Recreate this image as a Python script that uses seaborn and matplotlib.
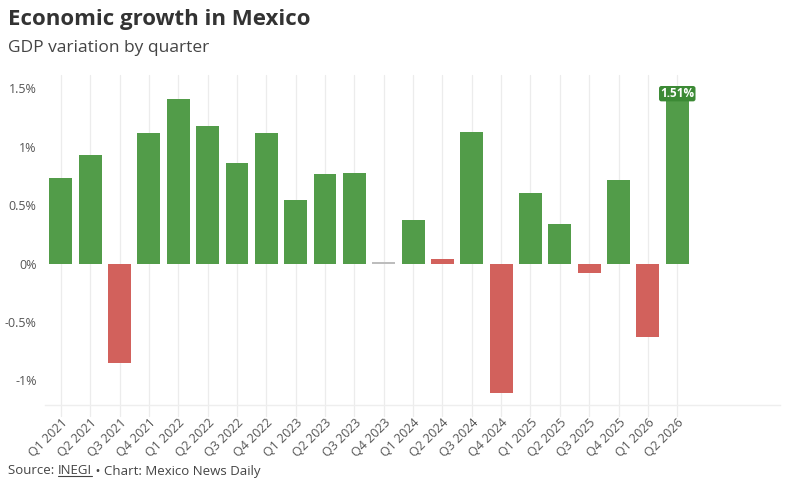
import matplotlib
matplotlib.use("Agg")
import matplotlib.pyplot as plt
import seaborn as sns
import pandas as pd

quarters = ["Q1 2021", "Q2 2021", "Q3 2021", "Q4 2021", "Q1 2022", "Q2 2022", "Q3 2022", "Q4 2022",
            "Q1 2023", "Q2 2023", "Q3 2023", "Q4 2023", "Q1 2024", "Q2 2024", "Q3 2024", "Q4 2024",
            "Q1 2025", "Q2 2025", "Q3 2025", "Q4 2025", "Q1 2026", "Q2 2026"]
gdp_change = [0.73, 0.93, -0.85, 1.12, 1.41, 1.18, 0.86, 1.12,
              0.545, 0.77, 0.78, 0.01, 0.37, 0.04, 1.13, -1.11,
              0.605, 0.34, -0.08, 0.72, -0.63, 1.51]
bar_status = ["up", "up", "down", "up", "up", "up", "up", "up",
              "up", "up", "up", "flat", "up", "down", "up", "down",
              "up", "up", "down", "up", "down", "up"]
y_ticks = [-1, -0.5, 0, 0.5, 1, 1.5]
y_tick_labels = ["-1%", "-0.5%", "0%", "0.5%", "1%", "1.5%"]

status_colors = {"up": "#529c49", "down": "#d2615c", "flat": "#bdbdbd"}

sns.set_theme(style="white")
plt.rcParams["font.family"] = ["Open Sans", "DejaVu Sans"]

df = pd.DataFrame({"quarter": quarters, "value": gdp_change, "status": bar_status})

W, H = 800, 487
fig = plt.figure(figsize=(W / 100, H / 100), dpi=100)
ax = fig.add_axes([45 / W, 1 - 405 / H, (780 - 45) / W, (405 - 75) / H])

sns.barplot(data=df, x="quarter", y="value", hue="quarter",
            palette=[status_colors[s] for s in bar_status],
            order=quarters, hue_order=quarters, legend=False, saturation=1,
            width=0.78, ax=ax, zorder=3, edgecolor="none")

ax.set_xlim(-0.54, 24.5)
ax.set_ylim(-1.21, 1.615)

# vertical gridlines at each category
for i in range(len(quarters)):
    ax.plot([i, i], [-1.30, 1.615], color="#ececec", lw=0.9, zorder=1,
            clip_on=False)

for s in ["top", "right", "left"]:
    ax.spines[s].set_visible(False)
ax.spines["bottom"].set_color("#eeeeee")
ax.spines["bottom"].set_linewidth(1)

ax.set_yticks(y_ticks)
ax.set_yticklabels(y_tick_labels)
ax.tick_params(axis="y", length=0, pad=6, labelsize=9, labelcolor="#555555")
ax.tick_params(axis="x", length=0, pad=8, labelsize=9, labelcolor="#555555")
ax.set_xticks(range(len(quarters)))
ax.set_xticklabels(quarters, rotation=45, ha="right", rotation_mode="anchor")
ax.set_xlabel("")
ax.set_ylabel("")
ax.grid(False)

# last value label
last = len(quarters) - 1
ax.text(last, gdp_change[last] - 0.055, f"{gdp_change[last]:.2f}%", ha="center", va="center",
        color="white", fontsize=8.5, fontweight="bold", zorder=5,
        bbox=dict(boxstyle="round,pad=0.1,rounding_size=0.2", fc="#3c8a35", ec="none"))

# titles
fig.text(8 / W, 1 - 20 / H, "Economic growth in Mexico", fontsize=16, fontweight="bold",
         color="#333333", va="center", ha="left")
fig.text(8 / W, 1 - 48 / H, "GDP variation by quarter", fontsize=12.5,
         color="#444444", va="center", ha="left")

# footer
fig.canvas.draw()
renderer = fig.canvas.get_renderer()
fy = 1 - 471 / H
t1 = fig.text(8 / W, fy, "Source: ", fontsize=9.5, color="#444444", va="center", ha="left")
bb1 = t1.get_window_extent(renderer)
t2 = fig.text(bb1.x1 / W, fy, "INEGI", fontsize=9.5, color="#444444", va="center", ha="left")
bb2 = t2.get_window_extent(renderer)
fig.add_artist(plt.Line2D([bb2.x0 / W, bb2.x1 / W], [(bb2.y0 + 2) / H, (bb2.y0 + 2) / H],
                          color="#444444", lw=0.8))
fig.text(bb2.x1 / W, fy, " \u2022 Chart: Mexico News Daily", fontsize=9.5, color="#444444",
         va="center", ha="left")

fig.savefig("out.png", dpi=100, facecolor="white")
